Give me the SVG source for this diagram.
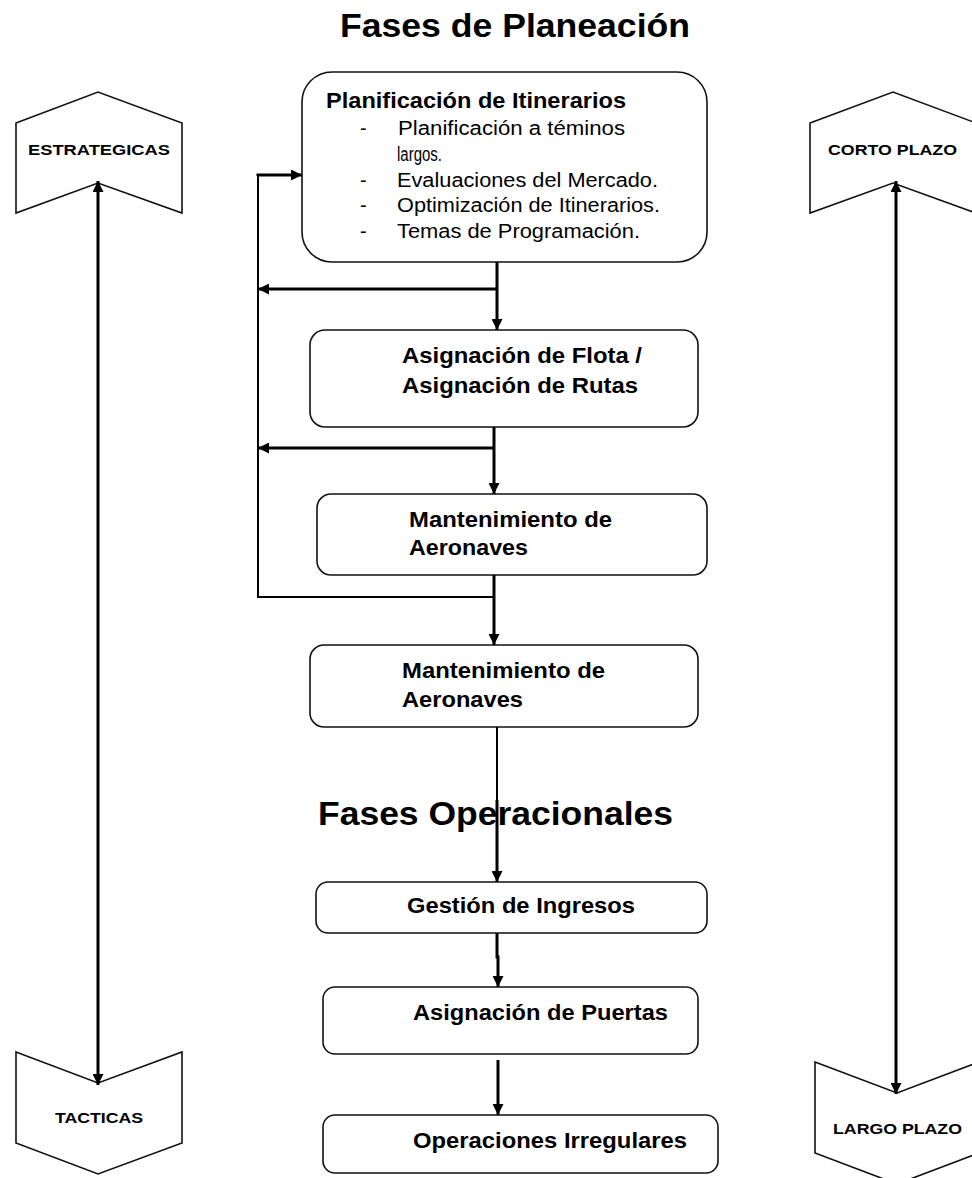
<svg xmlns="http://www.w3.org/2000/svg" width="972" height="1178" viewBox="0 0 972 1178">
  <style>
    .box { fill: #ffffff; stroke: #111111; stroke-width: 1.6; }
    .chev { fill: #ffffff; stroke: #111111; stroke-width: 1.6; stroke-linejoin: miter; }
    .title { font-family: "Liberation Sans", Arial, sans-serif; font-weight: bold; font-size: 33px; fill: #000000; }
    .head { font-family: "Liberation Sans", Arial, sans-serif; font-weight: bold; font-size: 22px; fill: #000000; }
    .item { font-family: "Liberation Sans", Arial, sans-serif; font-size: 20px; fill: #000000; }
    .lbl { font-family: "Liberation Sans", Arial, sans-serif; font-weight: bold; font-size: 22px; fill: #000000; }
    .tag { font-family: "Liberation Sans", Arial, sans-serif; font-weight: bold; font-size: 15px; fill: #000000; }
    .wire { fill: none; stroke: #000000; stroke-width: 3; }
    .thin { fill: none; stroke: #000000; stroke-width: 2; }
  </style>
  <defs>
    <marker id="arrow" viewBox="0 0 10 10" refX="10" refY="5" markerWidth="11" markerHeight="11" markerUnits="userSpaceOnUse" orient="auto-start-reverse">
      <path d="M0,0 L10,5 L0,10 Z" fill="#000000"/>
    </marker>
  </defs>

  <rect x="0" y="0" width="972" height="1178" fill="#ffffff"/>

  <!-- Section headings -->
  <text class="title" x="340" y="37" textLength="350" lengthAdjust="spacingAndGlyphs">Fases de Planeación</text>

  <!-- Horizon markers -->
  <g id="estrategicas">
    <polygon class="chev" points="16,123 98,92 182,123 182,213 98,183 16,213"/>
    <text class="tag" x="28" y="155" textLength="142" lengthAdjust="spacingAndGlyphs">ESTRATEGICAS</text>
  </g>
  <g id="tacticas">
    <polygon class="chev" points="16,1052 98,1083 182,1052 182,1143 98,1174 16,1143"/>
    <text class="tag" x="55" y="1123" textLength="88" lengthAdjust="spacingAndGlyphs">TACTICAS</text>
  </g>
  <g id="corto-plazo">
    <polygon class="chev" points="810,123 893,92 976,123 976,213 893,183 810,213"/>
    <text class="tag" x="828" y="155" textLength="129" lengthAdjust="spacingAndGlyphs">CORTO PLAZO</text>
  </g>
  <g id="largo-plazo">
    <polygon class="chev" points="815,1062 897,1093 979,1062 979,1153 897,1184 815,1153"/>
    <text class="tag" x="833" y="1134" textLength="129" lengthAdjust="spacingAndGlyphs">LARGO PLAZO</text>
  </g>

  <!-- Planning phases -->
  <g id="planificacion">
    <rect class="box" x="302" y="72" width="405" height="190" rx="30" ry="30"/>
    <text class="head" x="326" y="108" textLength="300" lengthAdjust="spacingAndGlyphs">Planificación de Itinerarios</text>
    <text class="item" x="360" y="135">-</text>
    <text class="item" x="398" y="135" textLength="227" lengthAdjust="spacingAndGlyphs">Planificación a téminos</text>
    <text class="item" x="397" y="161" textLength="45" lengthAdjust="spacingAndGlyphs">largos.</text>
    <text class="item" x="360" y="187">-</text>
    <text class="item" x="397" y="187" textLength="261" lengthAdjust="spacingAndGlyphs">Evaluaciones del Mercado.</text>
    <text class="item" x="360" y="212">-</text>
    <text class="item" x="397" y="212" textLength="263" lengthAdjust="spacingAndGlyphs">Optimización de Itinerarios.</text>
    <text class="item" x="360" y="238">-</text>
    <text class="item" x="397" y="238" textLength="243" lengthAdjust="spacingAndGlyphs">Temas de Programación.</text>
  </g>

  <g id="asignacion-flota">
    <rect class="box" x="310" y="330" width="388" height="97" rx="15" ry="15"/>
    <text class="lbl" x="402" y="363" textLength="240" lengthAdjust="spacingAndGlyphs">Asignación de Flota /</text>
    <text class="lbl" x="402" y="393" textLength="236" lengthAdjust="spacingAndGlyphs">Asignación de Rutas</text>
  </g>

  <g id="mantenimiento-1">
    <rect class="box" x="317" y="494" width="390" height="81" rx="14" ry="14"/>
    <text class="lbl" x="409" y="527" textLength="203" lengthAdjust="spacingAndGlyphs">Mantenimiento de</text>
    <text class="lbl" x="409" y="555" textLength="119" lengthAdjust="spacingAndGlyphs">Aeronaves</text>
  </g>

  <g id="mantenimiento-2">
    <rect class="box" x="310" y="645" width="388" height="82" rx="14" ry="14"/>
    <text class="lbl" x="402" y="678" textLength="203" lengthAdjust="spacingAndGlyphs">Mantenimiento de</text>
    <text class="lbl" x="402" y="707" textLength="121" lengthAdjust="spacingAndGlyphs">Aeronaves</text>
  </g>

  <!-- Connectors -->
  <g id="connectors">
    <!-- left/right horizon arrows -->
    <line class="wire" x1="98" y1="181" x2="98" y2="1085" marker-start="url(#arrow)" marker-end="url(#arrow)"/>
    <line class="wire" x1="896" y1="181" x2="896" y2="1094" marker-start="url(#arrow)" marker-end="url(#arrow)"/>

    <!-- main flow -->
    <line class="wire" x1="497" y1="262" x2="497" y2="330" marker-end="url(#arrow)"/>
    <line class="wire" x1="497" y1="289" x2="258" y2="289" marker-end="url(#arrow)"/>
    <line class="wire" x1="494" y1="427" x2="494" y2="494" marker-end="url(#arrow)"/>
    <line class="wire" x1="494" y1="448" x2="258" y2="448" marker-end="url(#arrow)"/>
    <line class="wire" x1="494" y1="575" x2="494" y2="645" marker-end="url(#arrow)"/>
    <!-- feedback loop back to the itinerary planning -->
    <path class="thin" d="M494,597 H258 V175"/>
    <path class="wire" d="M258,176 V175 H302" marker-end="url(#arrow)"/>

    <line class="thin" x1="497" y1="727" x2="497" y2="800"/>
    <line class="wire" x1="497" y1="800" x2="497" y2="882" marker-end="url(#arrow)"/>
    <path class="wire" d="M497,933 V957 H498 V987" marker-end="url(#arrow)"/>
    <line class="wire" x1="498" y1="1060" x2="498" y2="1115" marker-end="url(#arrow)"/>
  </g>

  <text class="title" x="318" y="825" textLength="355" lengthAdjust="spacingAndGlyphs">Fases Operacionales</text>

  <!-- Operational phases -->
  <g id="gestion-ingresos">
    <rect class="box" x="316" y="882" width="391" height="51" rx="12" ry="12"/>
    <text class="lbl" x="407" y="913" textLength="228" lengthAdjust="spacingAndGlyphs">Gestión de Ingresos</text>
  </g>

  <g id="asignacion-puertas">
    <rect class="box" x="323" y="987" width="375" height="67" rx="12" ry="12"/>
    <text class="lbl" x="413" y="1020" textLength="255" lengthAdjust="spacingAndGlyphs">Asignación de Puertas</text>
  </g>

  <g id="operaciones-irregulares">
    <rect class="box" x="323" y="1115" width="395" height="58" rx="12" ry="12"/>
    <text class="lbl" x="413" y="1148" textLength="274" lengthAdjust="spacingAndGlyphs">Operaciones Irregulares</text>
  </g>
</svg>
